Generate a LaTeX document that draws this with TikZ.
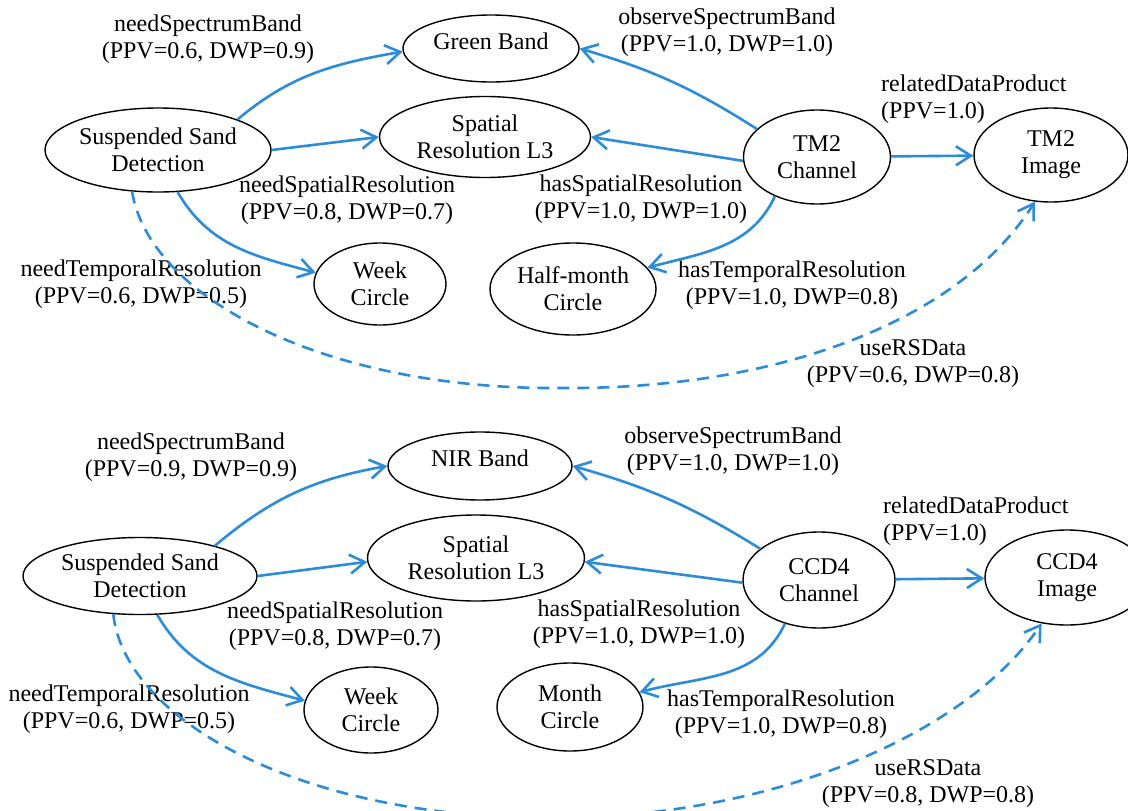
\documentclass[tikz,border=0pt]{standalone}
\usepackage{fontspec}
\setmainfont{Liberation Serif}
\usetikzlibrary{shapes.geometric,arrows.meta}
\definecolor{linkblue}{RGB}{45,140,215}
\begin{document}
\begin{tikzpicture}[x=1pt,y=-1pt,
  font=\fontsize{24pt}{27pt}\selectfont,
  concept/.style={ellipse,draw=black,line width=1.4pt,inner sep=0pt,align=center},
  rel/.style={draw=linkblue,line width=2.6pt,-{Straight Barb[length=15pt,width=19pt]}},
  userel/.style={rel,dash pattern=on 12pt off 8pt},
  lbl/.style={align=center,inner sep=0pt},
  lbll/.style={align=left,inner sep=0pt,anchor=west}]
\useasboundingbox (0,0) rectangle (1128,811);
\fill[white] (0,0) rectangle (1128,811);
\clip (0,0) rectangle (1128,811);

% ---------- upper graph: TM2 ----------
\node[concept,minimum width=226pt,minimum height=84pt] (ssdA) at (158,150) {Suspended Sand\\Detection};
\node[concept,minimum width=176pt,minimum height=67pt,text depth=14pt] (greenA) at (491,48.5) {Green Band};
\node[concept,minimum width=211pt,minimum height=81pt] (spatA) at (485,137) {Spatial\\Resolution L3};
\node[concept,minimum width=132pt,minimum height=82pt] (weekA) at (380,284) {Week\\Circle};
\node[concept,minimum width=166pt,minimum height=92pt] (halfA) at (573,289) {Half-month\\Circle};
\node[concept,minimum width=147pt,minimum height=94pt] (chanA) at (817,157) {TM2\\Channel};
\node[concept,minimum width=154pt,minimum height=94pt] (imgA) at (1051,155) {TM2\\Image};

\node[lbl] (lSpecA) at (208,39) {needSpectrumBand\\(PPV=0.6, DWP=0.9)};
\node[lbl] (lObsA) at (727,32) {observeSpectrumBand\\(PPV=1.0, DWP=1.0)};
\node[lbll] (lProdA) at (881,99) {relatedDataProduct\\(PPV=1.0)};
\node[lbl] (lSpatA) at (347,200) {needSpatialResolution\\(PPV=0.8, DWP=0.7)};
\node[lbl] (lHasSA) at (641,199) {hasSpatialResolution\\(PPV=1.0, DWP=1.0)};
\node[lbl] (lTempA) at (141,284) {needTemporalResolution\\(PPV=0.6, DWP=0.5)};
\node[lbl] (lHasTA) at (792,285) {hasTemporalResolution\\(PPV=1.0, DWP=0.8)};
\node[lbl] (lUseA) at (913,364) {useRSData\\(PPV=0.6, DWP=0.8)};

\draw[rel] (ssdA.21) to[out=40,in=190] (greenA.182);
\draw[rel] (ssdA.east) -- (spatA.west);
\draw[rel] (ssdA.-65) to[out=-60,in=165] (weekA.170);
\draw[rel] (chanA.155) to[bend right=8] (greenA.east);
\draw[rel] (chanA.183) -- (spatA.east);
\draw[rel] (chanA) -- (imgA);
\draw[rel] (chanA.-137) to[out=-115,in=15] (halfA.16);
\draw[userel] (ssdA.-122) .. controls (150,300) and (330,390) .. (560,388)
  .. controls (780,390) and (960,320) .. (imgA.-109);

% ---------- lower graph: CCD4 ----------
\node[concept,minimum width=234pt,minimum height=77pt] (ssdB) at (140,576) {Suspended Sand\\Detection};
\node[concept,minimum width=184pt,minimum height=68pt,text depth=16pt] (nirB) at (480,466) {NIR Band};
\node[concept,minimum width=217pt,minimum height=86pt] (spatB) at (476,558) {Spatial\\Resolution L3};
\node[concept,minimum width=134pt,minimum height=86pt] (weekB) at (371,710) {Week\\Circle};
\node[concept,minimum width=146pt,minimum height=88pt] (monthB) at (570,707) {Month\\Circle};
\node[concept,minimum width=152pt,minimum height=96pt] (chanB) at (819,580) {CCD4\\Channel};
\node[concept,minimum width=164pt,minimum height=95pt] (imgB) at (1067,577.5) {CCD4\\Image};

\node[lbl] (lSpecB) at (191,457) {needSpectrumBand\\(PPV=0.9, DWP=0.9)};
\node[lbl] (lObsB) at (733,451) {observeSpectrumBand\\(PPV=1.0, DWP=1.0)};
\node[lbll] (lProdB) at (883,521) {relatedDataProduct\\(PPV=1.0)};
\node[lbl] (lSpatB) at (335,626) {needSpatialResolution\\(PPV=0.8, DWP=0.7)};
\node[lbl] (lHasSB) at (639,624) {hasSpatialResolution\\(PPV=1.0, DWP=1.0)};
\node[lbl] (lTempB) at (129,709) {needTemporalResolution\\(PPV=0.6, DWP=0.5)};
\node[lbl] (lHasTB) at (781,714) {hasTemporalResolution\\(PPV=1.0, DWP=0.8)};
\node[lbl] (lUseB) at (928,783.5) {useRSData\\(PPV=0.8, DWP=0.8)};

\draw[rel] (ssdB.22) to[out=40,in=190] (nirB.west);
\draw[rel] (ssdB.east) -- (spatB.182);
\draw[rel] (ssdB.-66) to[out=-60,in=165] (weekB.172);
\draw[rel] (chanB.152) to[bend right=8] (nirB.east);
\draw[rel] (chanB.182) -- (spatB.-2);
\draw[rel] (chanB) -- (imgB);
\draw[rel] (chanB.-128) to[out=-115,in=15] (monthB.12);
\draw[userel] (ssdB.-125) .. controls (125,720) and (300,818) .. (550,818)
  .. controls (780,818) and (970,730) .. (imgB.-119);
\end{tikzpicture}
\end{document}
